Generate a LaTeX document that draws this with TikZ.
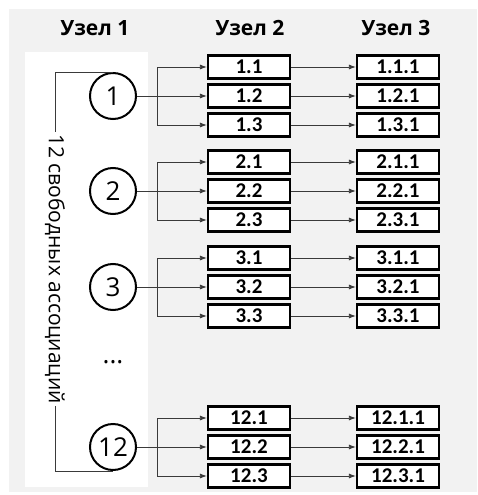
\documentclass[tikz,border=0pt]{standalone}
\usepackage{fontspec}
\setmainfont{Open Sans}
\newfontfamily\boxfont{Carlito}
\usetikzlibrary{arrows.meta}
\definecolor{bggray}{HTML}{F2F2F2}
\definecolor{linkgray}{HTML}{3A3A3A}
\tikzset{
  headtext/.style={font=\fontsize{21}{24}\selectfont\bfseries, anchor=base},
  assoc/.style={circle, draw=black, line width=2pt, minimum size=46pt, inner sep=0pt,
    font=\fontsize{26}{28}\selectfont, fill=white},
  itembox/.style={draw=black, line width=2.2pt, fill=white, minimum width=82pt,
    minimum height=23pt, inner sep=0pt, font=\boxfont\fontsize{21}{22}\selectfont\bfseries},
  link/.style={draw=linkgray, line width=0.8pt, -{Latex[length=7pt,width=5pt]}},
  plain/.style={draw=linkgray, line width=0.8pt},
}
\begin{document}
\begin{tikzpicture}[x=1pt, y=-1pt]
  % canvas and panels
  \useasboundingbox (0,0) rectangle (477,495);
  \fill[bggray] (9,9) rectangle (477,492);
  \fill[white] (25,52) rectangle (148,487);

  % column headings
  \node[headtext] (h1) at (95,36) {Узел 1};
  \node[headtext] (h2) at (250,36) {Узел 2};
  \node[headtext] (h3) at (396,36) {Узел 3};

  % association groups: index / vertical centre
  \foreach \g/\yc in {1/96, 2/191, 3/287, 12/447} {
    \node[assoc] (c\g) at (113,\yc) {\g};
    \coordinate (b\g) at (157,\yc);
    \foreach \k/\dy in {1/-29, 2/0, 3/29} {
      \node[itembox] (m\g-\k) at (249,\yc+\dy) {\g.\k};
      \node[itembox] (e\g-\k) at (398,\yc+\dy) {\g.\k.1};
      \draw[link] (m\g-\k.east) -- (e\g-\k.west);
    }
    \draw[link] (c\g.east) -- (m\g-2.west);
    \draw[link] (b\g) |- (m\g-1.west);
    \draw[link] (b\g) |- (m\g-3.west);
  }

  \node (dots) at (113,362) {\fontsize{26}{28}\selectfont ...};

  % bracket spanning all twelve associations
  \node[rotate=-90, inner xsep=2pt, inner ysep=0pt, fill=white,
        font=\fontsize{21}{24}\selectfont] (lbl) at (55,269) {12 свободных ассоциаций};
  \draw[plain] (c1.north) -| (lbl.west);
  \draw[plain] (lbl.east) |- (c12.south);
\end{tikzpicture}
\end{document}
